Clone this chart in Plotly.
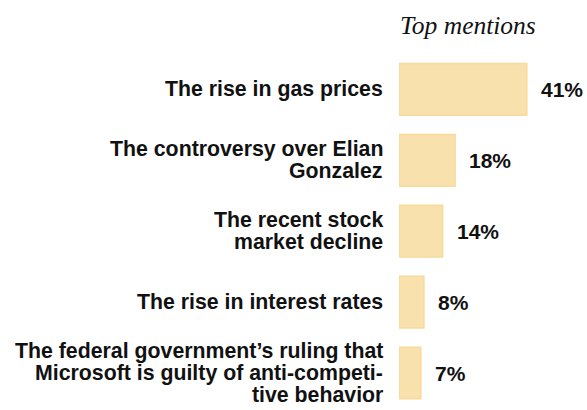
import plotly.graph_objects as go

labels = [
    "The rise in gas prices",
    "The controversy over Elian<br>Gonzalez",
    "The recent stock<br>market decline",
    "The rise in interest rates",
    "The federal government’s ruling that<br>Microsoft is guilty of anti-competi-<br>tive behavior",
]
values = [41, 18, 14, 8, 7]

W, H = 587, 410
L, T = 399, 54
plot_h = H - T - 1

fig = go.Figure(
    go.Bar(
        x=values,
        y=labels,
        orientation="h",
        marker=dict(
            color="#F9E1AE",
            line=dict(color="#F8DA9A", width=1.5)
        ),
        hoverinfo="skip",
        showlegend=False
    )
)

label_font = dict(family="Liberation Sans", size=21.3, color="#111111", weight="bold")
line_gap = 22

for v, lab in zip(values, labels):
    lines = lab.split("<br>")
    n = len(lines)
    for j, line in enumerate(lines):
        fig.add_annotation(
            x=0,
            y=lab,
            xref="x",
            yref="y",
            text=line,
            showarrow=False,
            xanchor="right",
            yanchor="middle",
            xshift=-14,
            yshift=((n - 1) / 2 - j) * line_gap,
            font=label_font
        )
    fig.add_annotation(
        x=v,
        y=lab,
        text=f"{v}%",
        showarrow=False,
        xanchor="left",
        xshift=12,
        font=dict(family="Liberation Sans", size=21, color="#111111", weight="bold")
    )

fig.add_annotation(
    x=-1 / 187,
    y=1 + 29 / plot_h,
    xref="paper",
    yref="paper",
    text="<i>Top mentions</i>",
    showarrow=False,
    xanchor="left",
    yanchor="middle",
    font=dict(family="Liberation Serif", size=25.5, color="#111111"),
)

fig.update_layout(
    width=W,
    height=H,
    margin=dict(l=L, r=1, t=T, b=1),
    paper_bgcolor="white",
    plot_bgcolor="white",
    bargap=0.27,
    xaxis=dict(
        range=[0, 60],
        visible=False
    ),
    yaxis=dict(
        autorange="reversed",
        showline=False,
        showgrid=False,
        showticklabels=False
    ),
)

# drop the default 8px body margin so the figure fills the window exactly
fig.write_html(
    "out.html",
    config={"displayModeBar": False},
    post_script="document.body.style.margin='0';document.body.style.overflow='hidden';"
)
